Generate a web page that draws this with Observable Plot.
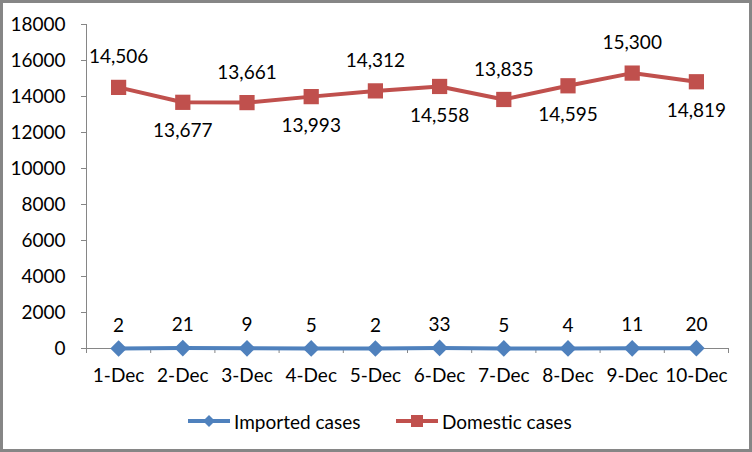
<!DOCTYPE html>
<html>
<head>
<meta charset="utf-8">
<script src="https://cdn.jsdelivr.net/npm/d3@7"></script>
<script src="https://cdn.jsdelivr.net/npm/@observablehq/plot@0.6"></script>
<style>
  html, body { margin: 0; padding: 0; background: #fff; }
  #frame { position: relative; width: 752px; height: 452px; box-sizing: border-box; border: 3px solid #868686; background: #fff; overflow: hidden; font-family: Lato, "Open Sans", sans-serif; }
  #chart svg text { fill: #000; }
  #legend { position: absolute; left: 0; top: 403px; width: 746px; height: 30px; font-size: 19px; color: #000; }
  .item { position: absolute; top: 0; display: flex; align-items: center; height: 30px; white-space: nowrap; }
  .item svg { margin-right: 3px; }
</style>
</head>
<body>
<div id="frame">
  <div id="chart"></div>
  <div id="legend"></div>
</div>
<script>
const categories = ["1-Dec","2-Dec","3-Dec","4-Dec","5-Dec","6-Dec","7-Dec","8-Dec","9-Dec","10-Dec"];
const imported = [2, 21, 9, 5, 2, 33, 5, 4, 11, 20];
const domestic = [14506, 13677, 13661, 13993, 14312, 14558, 13835, 14595, 15300, 14819];
const yTicks = [0, 2000, 4000, 6000, 8000, 10000, 12000, 14000, 16000, 18000];
const seriesNames = ["Imported cases", "Domestic cases"];
const colors = { imported: "#4F81BD", domestic: "#C0504D" };

const rows = categories.map((c, i) => ({ i, date: c, imported: imported[i], domestic: domestic[i] }));
const boundaries = categories.map((_, i) => i - 0.5).concat([categories.length - 0.5]);
const fmt = d3.format(",");

const chart = Plot.plot({
  width: 746,
  height: 380,
  marginLeft: 83,
  marginRight: 21,
  marginTop: 21,
  marginBottom: 35,
  style: { fontFamily: "Lato, 'Open Sans', sans-serif", fontSize: "19px", color: "#868686", background: "transparent", overflow: "visible" },
  x: { type: "linear", domain: [-0.5, categories.length - 0.5], ticks: boundaries, tickSize: 5, tickFormat: () => "", line: true, label: null },
  y: { domain: [0, 18000], ticks: yTicks, tickSize: 5, tickPadding: 16, tickFormat: d => String(d), line: true, label: null },
  marks: [
    Plot.text(rows, { x: "i", y: () => 0, text: "date", dy: 27, fill: "#000" }),
    Plot.line(rows, { x: "i", y: "imported", stroke: colors.imported, strokeWidth: 4 }),
    Plot.dot(rows, { x: "i", y: "imported", symbol: "diamond2", r: 7.5, fill: colors.imported, stroke: "none" }),
    Plot.line(rows, { x: "i", y: "domestic", stroke: colors.domestic, strokeWidth: 4 }),
    Plot.dot(rows, { x: "i", y: "domestic", symbol: "square", r: 8.6, fill: colors.domestic, stroke: "none" }),
    Plot.text(rows, { x: "i", y: "imported", text: d => fmt(d.imported), dy: -23, fill: "#000" }),
    Plot.text(rows, { filter: d => d.i % 2 === 0, x: "i", y: "domestic", text: d => fmt(d.domestic), dy: -30, fill: "#000" }),
    Plot.text(rows, { filter: d => d.i % 2 === 1, x: "i", y: "domestic", text: d => fmt(d.domestic), dy: 29, fill: "#000" })
  ]
});
document.getElementById("chart").appendChild(chart);

// Legend
const legend = document.getElementById("legend");
const legendDefs = [
  { name: seriesNames[0], color: colors.imported, marker: "diamond", left: 184 },
  { name: seriesNames[1], color: colors.domestic, marker: "square", left: 392 }
];
legendDefs.forEach(def => {
  const item = document.createElement("div");
  item.className = "item";
  item.style.left = def.left + "px";
  const ns = "http://www.w3.org/2000/svg";
  const svg = document.createElementNS(ns, "svg");
  svg.setAttribute("width", 44);
  svg.setAttribute("height", 20);
  const line = document.createElementNS(ns, "line");
  line.setAttribute("x1", 1); line.setAttribute("x2", 43);
  line.setAttribute("y1", 10); line.setAttribute("y2", 10);
  line.setAttribute("stroke", def.color); line.setAttribute("stroke-width", 4);
  svg.appendChild(line);
  let m;
  if (def.marker === "diamond") {
    m = document.createElementNS(ns, "path");
    m.setAttribute("d", "M22,4L28,10L22,16L16,10Z");
  } else {
    m = document.createElementNS(ns, "rect");
    m.setAttribute("x", 16); m.setAttribute("y", 4);
    m.setAttribute("width", 12); m.setAttribute("height", 12);
  }
  m.setAttribute("fill", def.color);
  svg.appendChild(m);
  item.appendChild(svg);
  const span = document.createElement("span");
  span.textContent = def.name;
  item.appendChild(span);
  legend.appendChild(item);
});
</script>
</body>
</html>
